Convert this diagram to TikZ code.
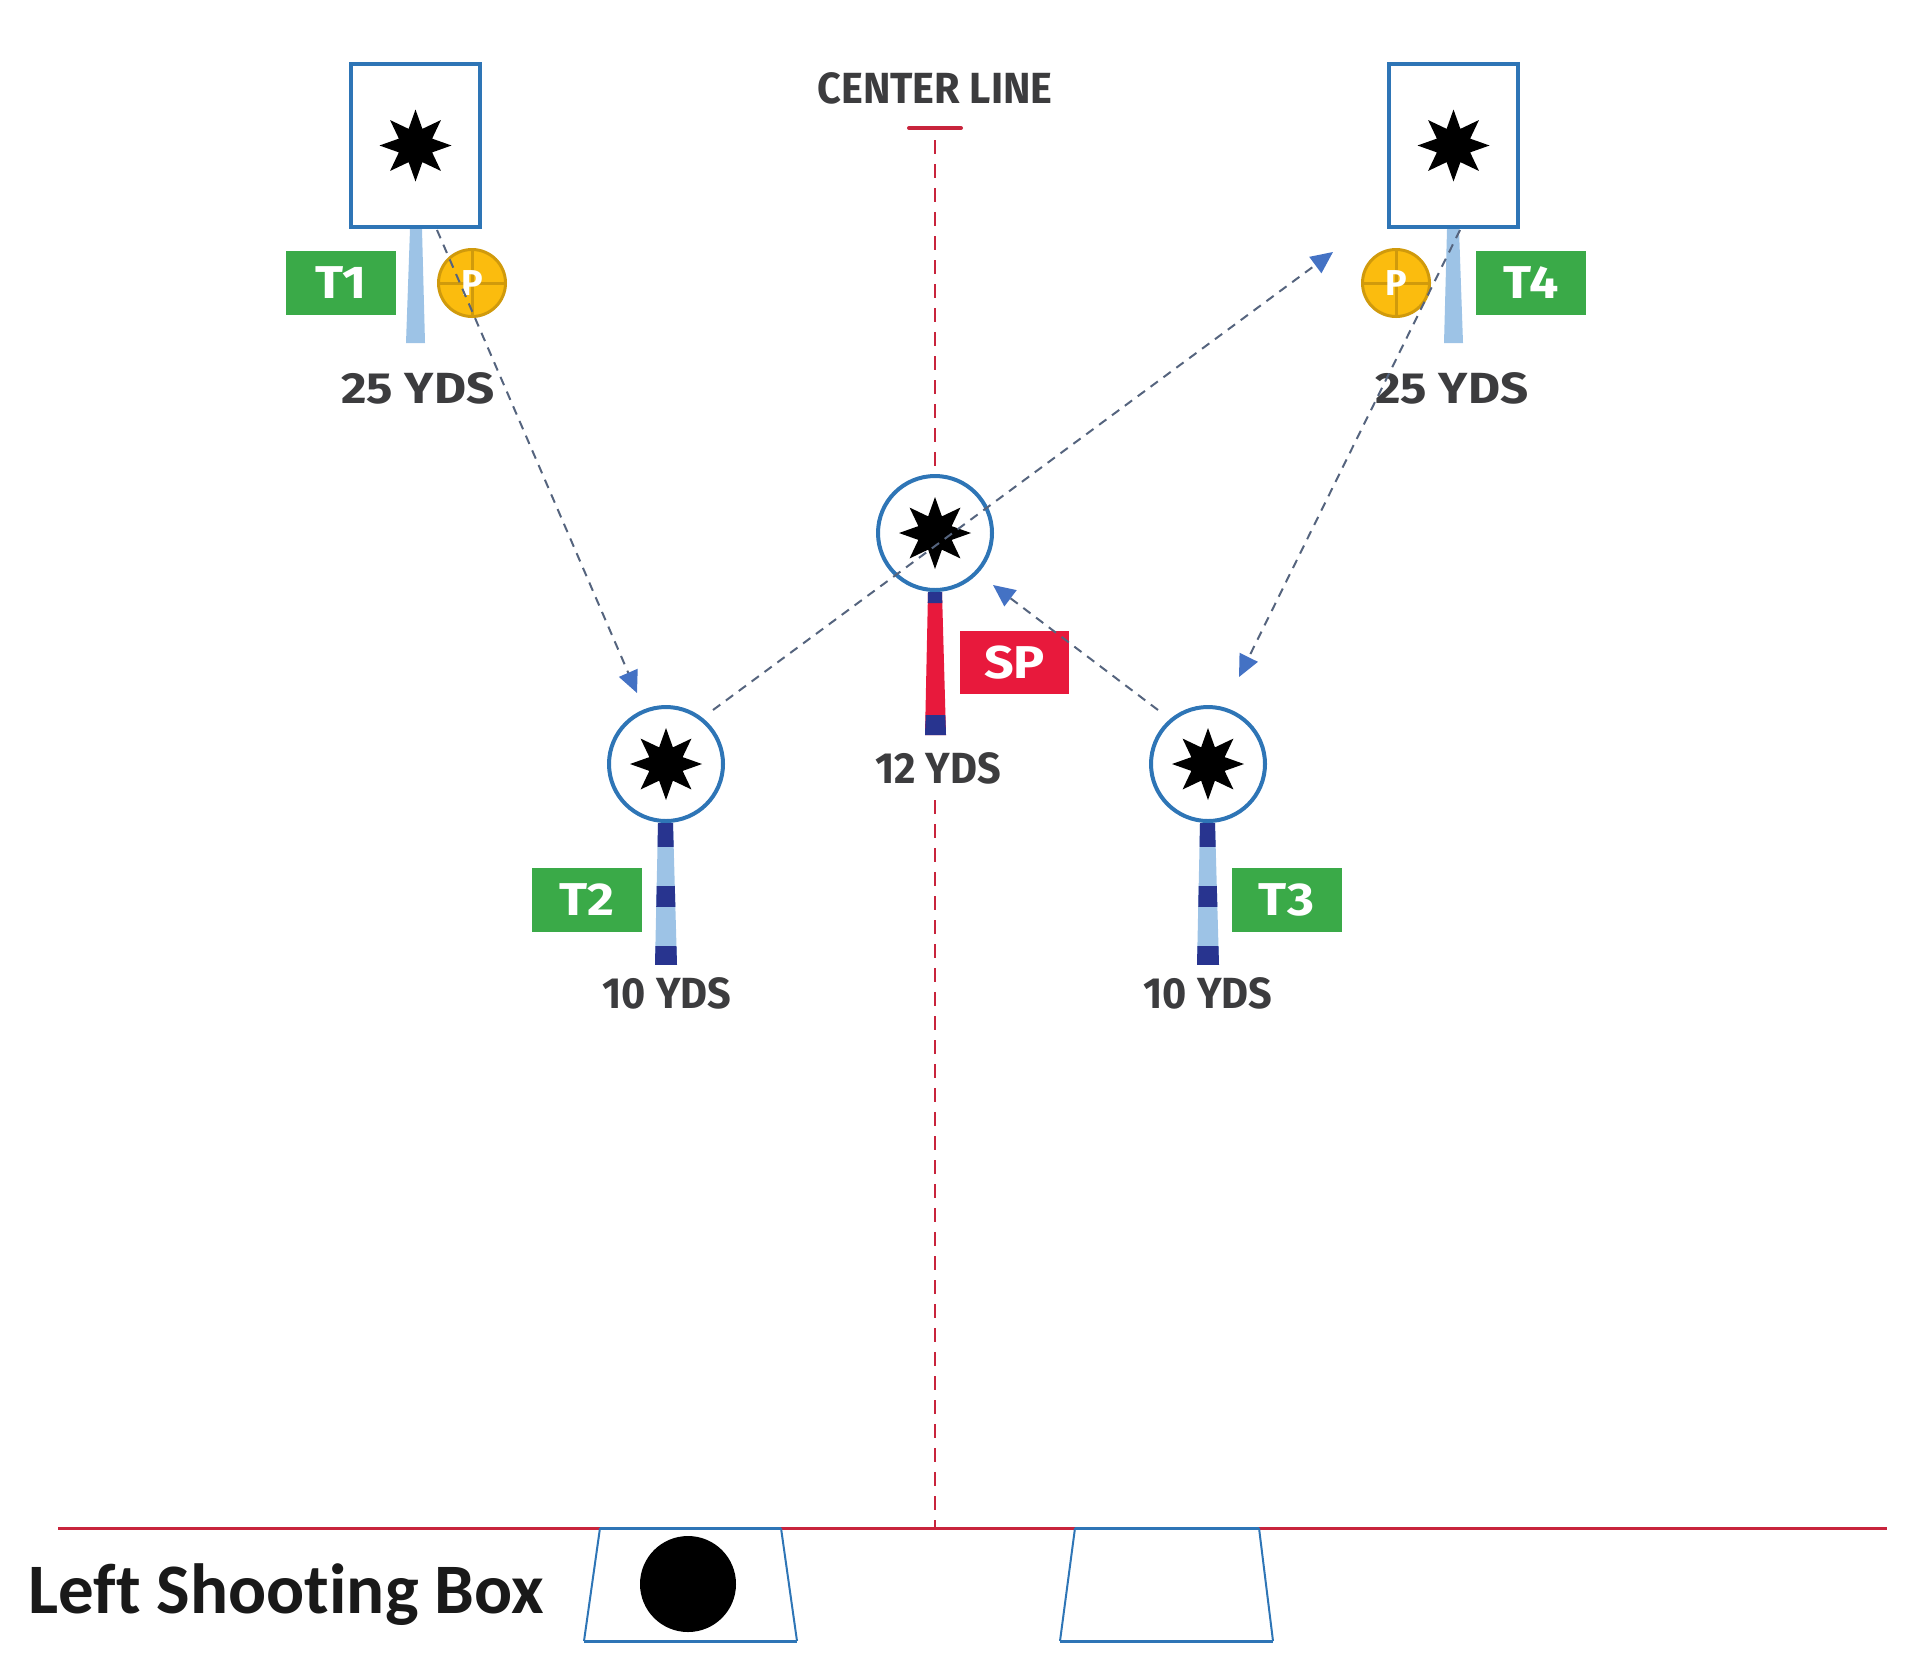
\documentclass[tikz,border=0pt]{standalone}
\usepackage{fontspec}
\setmainfont{Fira Sans}
\newfontfamily\boxfont[Ligatures=NoCommon]{Carlito}
\newfontfamily\narrowfont[FakeStretch=0.95]{Fira Sans}
\newfontfamily\widefont[FakeStretch=1.13]{Fira Sans}
\usetikzlibrary{shapes.geometric,arrows.meta}
\definecolor{tblue}{HTML}{2E75B6}
\definecolor{tgreen}{HTML}{3AAA48}
\definecolor{tred}{HTML}{E8193C}
\definecolor{lred}{HTML}{C8243C}
\definecolor{navy}{HTML}{28348F}
\definecolor{lblue}{HTML}{9DC3E6}
\definecolor{gold}{HTML}{FBBC0E}
\definecolor{golddark}{HTML}{D09A0C}
\definecolor{dashc}{HTML}{55647E}
\definecolor{arrowc}{HTML}{4472C4}
\definecolor{txt}{HTML}{3C3C3E}
\newcommand\stripedpost[1]{%
  \begin{scope}
    \clip (#1-8,823) -- (#1+7,823) -- (#1+11,965) -- (#1-11,965) -- cycle;
    \fill[lblue] (#1-20,823) rectangle (#1+20,965);
    \fill[navy] (#1-20,823) rectangle (#1+20,847);
    \fill[navy] (#1-20,886) rectangle (#1+20,907);
    \fill[navy] (#1-20,946) rectangle (#1+20,965);
  \end{scope}}
\begin{document}
\begin{tikzpicture}[x=0.5bp,y=-0.5bp,
  yds/.style={font=\narrowfont\fontsize{21.8bp}{24bp}\selectfont\bfseries, text=txt, anchor=base, inner sep=0pt},
  wyds/.style={font=\widefont\fontsize{21.8bp}{24bp}\selectfont\bfseries, text=txt, anchor=base, inner sep=0pt},
  tag/.style={fill=tgreen, text=white, font=\widefont\fontsize{23bp}{24bp}\selectfont\bfseries, minimum width=55bp, minimum height=32bp, inner sep=0pt},
  pmark/.style={circle, fill=gold, draw=golddark, line width=1.5bp, minimum size=33.5bp, inner sep=0pt, text=white,
    font=\fontsize{18bp}{20bp}\selectfont\bfseries,
    path picture={\draw[golddark,line width=1.5bp] (path picture bounding box.north) -- (path picture bounding box.south) (path picture bounding box.west) -- (path picture bounding box.east);}},
  bstar/.style={star, star points=8, star point ratio=2.0, fill=black, minimum size=36bp, inner sep=0pt},
  rtgt/.style={draw=tblue, line width=2bp, fill=white, minimum width=64.5bp, minimum height=81.5bp, inner sep=0pt},
  ctgt/.style={circle, draw=tblue, line width=2bp, fill=white, minimum size=57bp, inner sep=0pt},
  arr/.style={dashc, line width=1bp, dash pattern=on 4.5bp off 3.5bp, -{Triangle[length=11bp,width=10bp,color=arrowc]}},
  sbox/.style={draw=tblue, line width=1bp}
]
\useasboundingbox (0,0) rectangle (1920,1667);

% center line
\draw[lred, line width=2bp, line cap=round] (909,128) -- (961,128);
\draw[lred, line width=1.2bp, dash pattern=on 7bp off 5bp] (935,140) -- (935,480);
\draw[lred, line width=1.2bp, dash pattern=on 7bp off 5bp] (935,800) -- (935,1528);
\node[yds] (cl) at (935,103) {CENTER LINE};

% posts
\fill[lblue] (410,229) -- (422,229) -- (425,343) -- (406,343) -- cycle;
\fill[lblue] (1447,229) -- (1459,229) -- (1463,343) -- (1444,343) -- cycle;
\fill[tred] (928,592) -- (942,592) -- (946,735) -- (925,735) -- cycle;
\fill[navy] (928,592) -- (942,592) -- (942.3,603) -- (927.7,603) -- cycle;
\fill[navy] (925.7,715) -- (945.3,715) -- (946,735) -- (925,735) -- cycle;
\stripedpost{666}
\stripedpost{1208}

% targets
\node[rtgt] (t1) at (415.5,145.5) {};
\node[bstar] (s1) at (t1) {};
\node[rtgt] (t4) at (1453.5,145.5) {};
\node[bstar] (s4) at (t4) {};
\node[ctgt] (sp) at (935,533) {};
\node[bstar] (ssp) at (sp) {};
\node[ctgt] (t2) at (666,764) {};
\node[bstar] (s2) at (t2) {};
\node[ctgt] (t3) at (1208,764) {};
\node[bstar] (s3) at (t3) {};

% tags
\node[tag] (l1) at (341,283) {T1};
\node[tag] (l4) at (1531,283) {T4};
\node[tag] (l2) at (586.5,900) {T2};
\node[tag] (l3) at (1286.5,900) {T3};
\node[tag, fill=tred, minimum width=54.5bp, minimum height=31.5bp] (lsp) at (1014.5,662.5) {SP};
\node[pmark] (p1) at (472,283) {P};
\node[pmark] (p4) at (1396,283) {P};

% distances
\node[wyds] (d1) at (418,403) {25 YDS};
\node[wyds] (d4) at (1452,403) {25 YDS};
\node[yds] (dsp) at (938,783) {12 YDS};
\node[yds] (d2) at (667,1008) {10 YDS};
\node[yds] (d3) at (1208,1008) {10 YDS};

% shooting line and boxes
\draw[lred, line width=1.5bp] (58,1528) -- (1887,1528);
\draw[sbox] (600,1528) -- (584,1641) (781,1528) -- (797,1641);
\draw[tblue, line width=1.5bp] (600,1528) -- (781,1528) (584,1641) -- (797,1641);
\draw[sbox] (1075,1528) -- (1060,1641) (1259,1528) -- (1273,1641);
\draw[tblue, line width=1.5bp] (1075,1528) -- (1259,1528) (1060,1641) -- (1273,1641);
\fill (688,1584) circle (24bp);
\node[font=\boxfont\fontsize{35.5bp}{38bp}\selectfont\bfseries, anchor=base west, inner sep=0pt, text=black!90] (lsb) at (28,1613) {Left Shooting Box};

% movement arrows
\coordinate (a1s) at (437,230); \coordinate (a1e) at (637,693);
\coordinate (a2s) at (713,710); \coordinate (a2e) at (1333,252);
\coordinate (a3s) at (1460,230); \coordinate (a3e) at (1239,677);
\coordinate (a4s) at (1158,710); \coordinate (a4e) at (993,585);
\draw[arr] (a1s) -- (a1e);
\draw[arr] (a2s) -- (a2e);
\draw[arr] (a3s) -- (a3e);
\draw[arr] (a4s) -- (a4e);
\end{tikzpicture}
\end{document}
